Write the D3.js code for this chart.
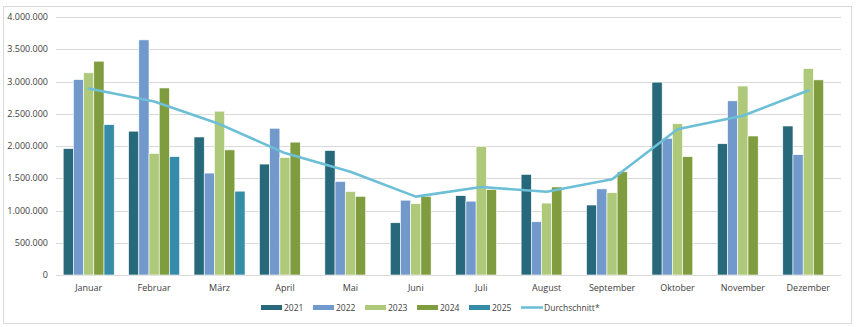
<!DOCTYPE html>
<html>
<head>
<meta charset="utf-8">
<script src="https://cdn.jsdelivr.net/npm/d3@7.9.0/dist/d3.min.js"></script>
<style>
  body { margin: 0; background: #fff; }
  text { font-family: "Open Sans", "Liberation Sans", sans-serif; fill: #404040; }
</style>
</head>
<body>
<svg id="chart" width="857" height="327"></svg>
<script>
const months = ["Januar", "Februar", "März", "April", "Mai", "Juni", "Juli", "August", "September", "Oktober", "November", "Dezember"];
const years = ["2021", "2022", "2023", "2024", "2025"];

const v2021 = [1960000, 2230000, 2140000, 1720000, 1930000, 810000, 1230000, 1560000, 1085000, 2990000, 2035000, 2310000];
const v2022 = [3030000, 3645000, 1580000, 2275000, 1450000, 1160000, 1145000, 825000, 1335000, 2120000, 2700000, 1865000];
const v2023 = [3135000, 1885000, 2540000, 1820000, 1295000, 1105000, 1995000, 1115000, 1275000, 2345000, 2930000, 3200000];
const v2024 = [3315000, 2900000, 1940000, 2060000, 1220000, 1220000, 1325000, 1365000, 1600000, 1835000, 2155000, 3025000];
const v2025 = [2330000, 1835000, 1300000, null, null, null, null, null, null, null, null, null];
const average = [2890000, 2690000, 2340000, 1890000, 1600000, 1215000, 1365000, 1290000, 1485000, 2260000, 2470000, 2860000];

const yTicks = [0, 500000, 1000000, 1500000, 2000000, 2500000, 3000000, 3500000, 4000000];

const series = [v2021, v2022, v2023, v2024, v2025];
const colors = ["#27697A", "#7199CB", "#AFC97A", "#7F9C3E", "#358CA8"];
const lineColor = "#6CBFD6";

const svg = d3.select("#chart");

// chart frame
svg.append("rect")
  .attr("x", 3.5).attr("y", 6.5)
  .attr("width", 848).attr("height", 317)
  .attr("fill", "none").attr("stroke", "#d9d9d9");

const margin = { left: 56, right: 16, top: 17, bottom: 52 };
const width = 857 - margin.left - margin.right;
const height = 327 - margin.top - margin.bottom - 0;

const x = d3.scaleBand().domain(months).range([margin.left, margin.left + width]).paddingInner(0.22).paddingOuter(0.11);
const xc = d3.scaleBand().domain(months).range([margin.left, margin.left + width]);
const xs = d3.scaleBand().domain(years).range([0, x.bandwidth()]);
const y = d3.scaleLinear().domain([0, 4000000]).range([275, 17]);

const fmt = d3.formatLocale({ decimal: ",", thousands: ".", grouping: [3], currency: ["", "€"] }).format(",");

// grid
svg.append("g")
  .selectAll("line")
  .data(yTicks)
  .join("line")
  .attr("x1", margin.left).attr("x2", margin.left + width)
  .attr("y1", d => Math.round(y(d)) + 0.5).attr("y2", d => Math.round(y(d)) + 0.5)
  .attr("stroke", "#d9d9d9");

// y labels
svg.append("g")
  .selectAll("text")
  .data(yTicks)
  .join("text")
  .attr("x", 48)
  .attr("y", d => y(d) + 3)
  .attr("text-anchor", "end")
  .attr("font-size", 9)
  .text(d => fmt(d));

// bars
series.forEach((vals, si) => {
  svg.append("g")
    .selectAll("rect")
    .data(vals.map((v, i) => ({ m: months[i], v })).filter(d => d.v != null))
    .join("rect")
    .attr("x", d => x(d.m) + xs(years[si]))
    .attr("width", xs.bandwidth())
    .attr("y", d => y(d.v))
    .attr("height", d => y(0) - y(d.v))
    .attr("fill", colors[si])
    .attr("stroke", "#fff")
    .attr("stroke-width", 0.6);
});

// month labels
svg.append("g")
  .selectAll("text")
  .data(months)
  .join("text")
  .attr("x", d => xc(d) + xc.bandwidth() / 2)
  .attr("y", 291)
  .attr("text-anchor", "middle")
  .attr("font-size", 9)
  .text(d => d);

// average line
const line = d3.line()
  .x((d, i) => xc(months[i]) + xc.bandwidth() / 2)
  .y(d => y(d));

svg.append("path")
  .datum(average)
  .attr("d", line)
  .attr("fill", "none")
  .attr("stroke", lineColor)
  .attr("stroke-width", 2.6)
  .attr("stroke-linejoin", "round")
  .attr("stroke-linecap", "round");

// legend
const legend = svg.append("g");
const legX = [261, 313, 365, 417, 469];
years.forEach((yr, i) => {
  legend.append("rect")
    .attr("x", legX[i]).attr("y", 305)
    .attr("width", 21).attr("height", 5)
    .attr("fill", colors[i]);
  legend.append("text")
    .attr("x", legX[i] + 23).attr("y", 311)
    .attr("font-size", 8.5)
    .text(yr);
});
legend.append("line")
  .attr("x1", 521).attr("x2", 543)
  .attr("y1", 307.5).attr("y2", 307.5)
  .attr("stroke", lineColor).attr("stroke-width", 2.6);
legend.append("text")
  .attr("x", 544).attr("y", 311)
  .attr("font-size", 8.5)
  .text("Durchschnitt*");
</script>
</body>
</html>
